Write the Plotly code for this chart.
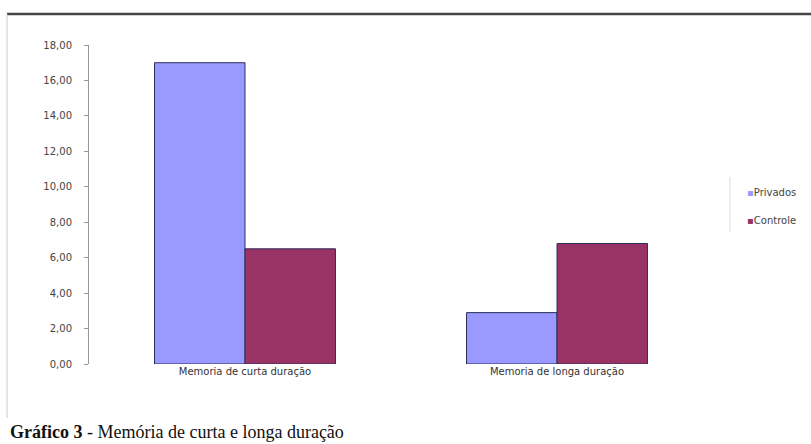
import plotly.graph_objects as go

categories = ["Memoria de curta duração", "Memoria de longa duração"]
privados = [17.0, 2.9]
controle = [6.5, 6.8]
series_names = ["Privados", "Controle"]
series_colors = ["#9999FF", "#993366"]
y_ticks = [0, 2, 4, 6, 8, 10, 12, 14, 16, 18]

W, H = 811, 444
L, R, T, B = 89, 98, 45, 80
pw = W - L - R
ph = H - T - B

def px_x(x):
    return (x - L) / pw

def px_y(y):
    return (H - B - y) / ph

fig = go.Figure()
for vals, name, col in zip([privados, controle], series_names, series_colors):
    fig.add_trace(go.Bar(x=categories, y=vals, name=name, showlegend=False,
                         marker=dict(color=col, line=dict(color="#2E2E5C", width=1))))
# legend entries (small square drawn as text, Excel-like)
for i, (name, col) in enumerate(zip(series_names, series_colors)):
    fig.add_trace(go.Scatter(x=[None], y=[None], mode="markers",
                             marker=dict(color="rgba(0,0,0,0)", size=1,
                                         line=dict(width=0, color="rgba(0,0,0,0)")),
                             legendgroup=f"g{i}",
                             name=f'<span style="color:{col}">▪</span>{name}'))

fig.update_layout(
    width=W, height=H,
    margin=dict(l=L, r=R, t=T, b=B, autoexpand=False),
    paper_bgcolor="white", plot_bgcolor="white",
    barmode="group", bargap=0.42, bargroupgap=0,
    separators=",.",
    showlegend=True,
    legend=dict(x=px_x(707), y=px_y(178), xanchor="left", yanchor="top",
                font=dict(family="DejaVu Sans", size=10, color="#444"),
                itemwidth=30, bgcolor="rgba(0,0,0,0)",
                traceorder="grouped", tracegroupgap=9),
    font=dict(family="DejaVu Sans", size=10, color="#333"),
    xaxis=dict(showline=False, ticks="", showgrid=False,
               tickfont=dict(family="DejaVu Sans", size=10, color="#333")),
    yaxis=dict(range=[0, 18], tickvals=y_ticks, tickformat=".2f",
               showline=True, linecolor="#999", linewidth=1,
               ticks="outside", ticklen=4, tickcolor="#999",
               ticklabelstandoff=10,
               showgrid=False, zeroline=False,
               tickfont=dict(family="DejaVu Sans", size=10, color="#444")),
)

# frame lines of the figure
fig.add_shape(type="line", xref="paper", yref="paper",
              x0=px_x(7), x1=px_x(811), y0=px_y(14), y1=px_y(14),
              line=dict(color="#444", width=2.5))
fig.add_shape(type="line", xref="paper", yref="paper",
              x0=px_x(7), x1=px_x(7), y0=px_y(14), y1=px_y(418),
              line=dict(color="#CCC", width=1))
# legend left border
fig.add_shape(type="line", xref="paper", yref="paper",
              x0=px_x(730), x1=px_x(730), y0=px_y(177), y1=px_y(232),
              line=dict(color="#DDD", width=1))

fig.add_annotation(xref="paper", yref="paper", x=px_x(8), y=px_y(432),
                   xanchor="left", yanchor="middle", showarrow=False,
                   text="<b>Gráfico 3</b> - Memória de curta e longa duração",
                   font=dict(family="Liberation Serif, Times New Roman", size=18, color="#111"))

fig.write_html("out.html")
